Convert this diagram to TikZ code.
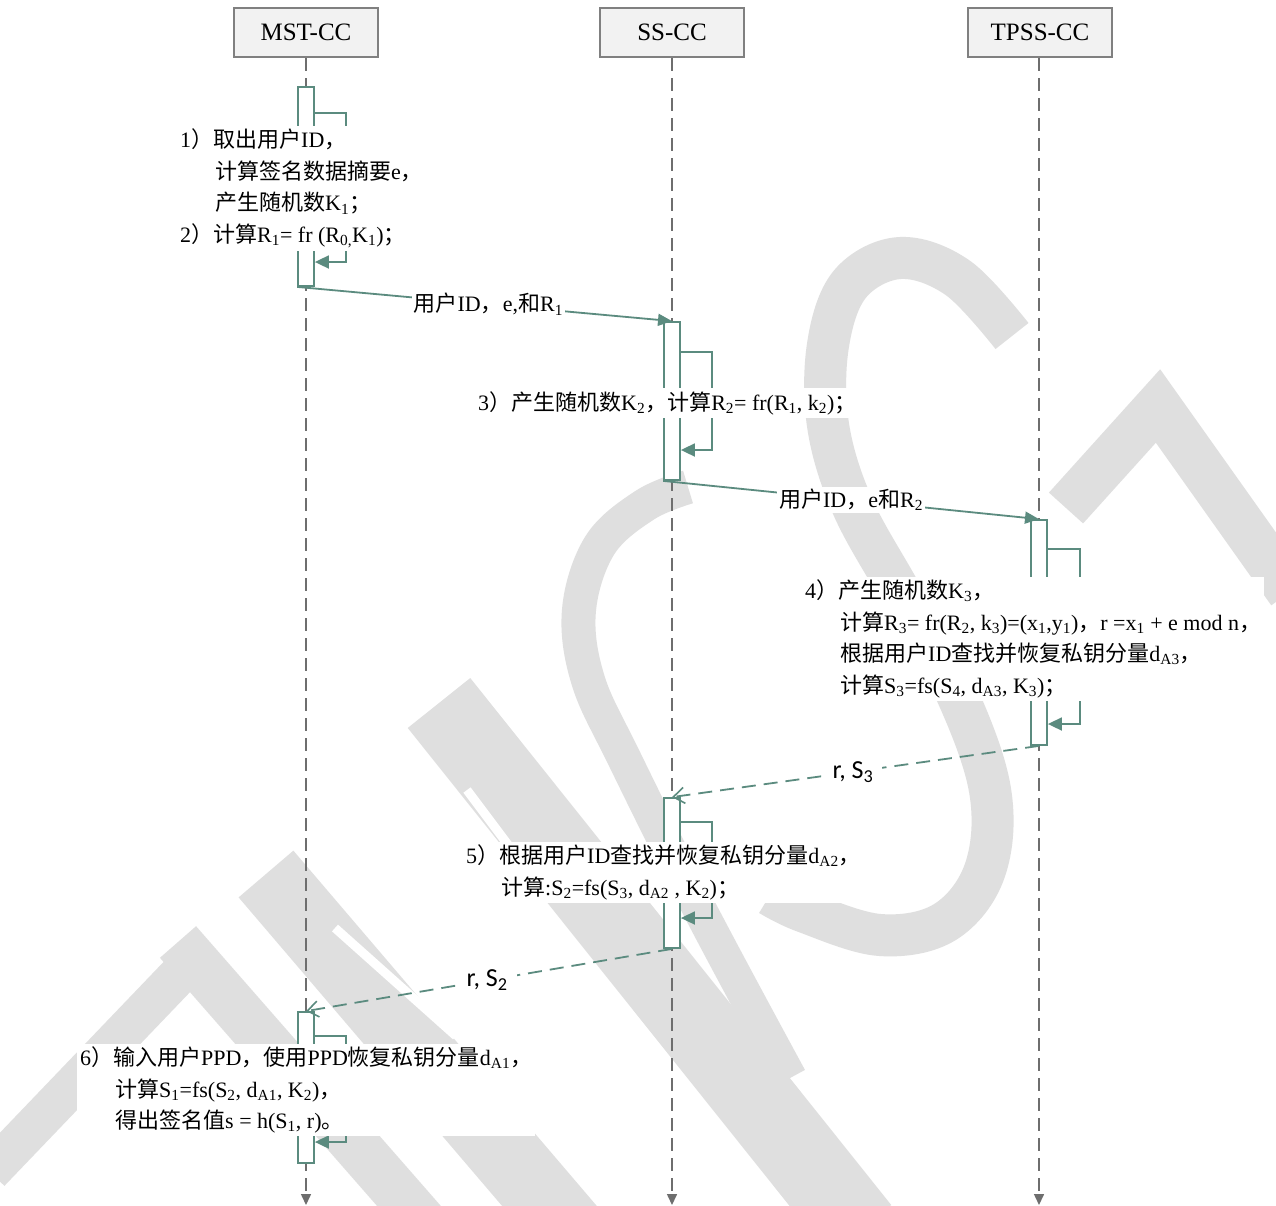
\documentclass[tikz,border=0pt]{standalone}
\usepackage{fontspec}
\setmainfont{Liberation Serif}
\newfontfamily\cjk{Noto Sans CJK SC}
\newfontfamily\lblfont{Carlito}
\usetikzlibrary{arrows.meta}
\definecolor{tealc}{RGB}{91,139,127}
\definecolor{lifegray}{RGB}{110,110,110}
\definecolor{wmgray}{RGB}{223,223,223}
\definecolor{hdrfill}{RGB}{242,242,242}
\definecolor{hdrdraw}{RGB}{128,128,128}
\newcommand\zh[1]{{\cjk #1}}
\newcommand\sbs[1]{\textsubscript{#1}}
\newcommand\ind{\hspace*{35pt}}
\begin{document}
\begin{tikzpicture}[x=1pt,y=-1pt,
  wm/.style={draw=wmgray,line cap=butt,line join=round},
  slit/.style={draw=white,line cap=butt},
  hdr/.style={draw=hdrdraw,fill=hdrfill,line width=2pt,minimum width=144pt,minimum height=49pt,inner sep=0pt,font=\fontsize{25}{30}\selectfont},
  life/.style={draw=lifegray,line width=1.5pt,dash pattern=on 13pt off 7pt,-{Triangle[length=11pt,width=10pt]}},
  act/.style={draw=tealc,fill=white,line width=1.8pt,minimum width=16pt,inner sep=0pt},
  selfc/.style={draw=tealc,line width=1.8pt,-{Triangle[length=14pt,width=13pt]}},
  msg/.style={draw=tealc,line width=1.8pt,-{Triangle[length=14pt,width=12pt]}},
  rmsg/.style={draw=tealc,line width=1.8pt,dash pattern=on 14pt off 8pt,-{Straight Barb[length=11pt,width=16pt,line width=1.6pt]}},
  txt/.style={fill=white,inner sep=3pt,align=left,anchor=west,font=\fontsize{22}{31.6}\selectfont},
  lbl/.style={fill=white,inner sep=2pt,font=\fontsize{22}{26}\selectfont},
  slbl/.style={fill=white,inner xsep=9pt,inner ysep=3pt,font=\lblfont\fontsize{26}{30}\selectfont}]
\useasboundingbox (0,0) rectangle (1276,1205);
\fill[white] (0,0) rectangle (1276,1205);
% ---------- watermark ----------
\begin{scope}
\clip (0,0) rectangle (1276,1205);
\draw[wm,line width=42pt] plot[smooth,tension=0.6] coordinates {(1012,336) (958,278) (900,258) (850,284) (828,345) (828,425) (852,505) (900,592) (955,690) (990,790) (985,870) (945,922) (880,935) (805,912) (770,895)};
\draw[wm,line width=34pt] plot[smooth,tension=0.6] coordinates {(688,487) (645,505) (600,545) (579,610) (588,680) (625,760) (700,910) (790,1078)};
\draw[wm,line width=46pt,line join=miter] (1066,508) -- (1158,406) -- (1290,592);
\draw[wm,line width=80pt] (439,703) -- (860,1230);
\draw[slit,line width=9pt] (467,790) -- (527,870);
\draw[wm,line width=72pt] (266,874) -- (570,1230);
\draw[slit,line width=9pt] (335,928) -- (456,1036);
\draw[wm,line width=40pt] (-10,1172) -- (195,958);
\draw[wm,line width=48pt] (178,942) -- (430,1230);
\end{scope}
% ---------- headers and lifelines ----------
\node[hdr] (h1) at (306,32.5) {MST-CC};
\node[hdr] (h2) at (672,32.5) {SS-CC};
\node[hdr] (h3) at (1040,32.5) {TPSS-CC};
\coordinate (e1) at (306,1205);
\coordinate (e2) at (672,1205);
\coordinate (e3) at (1039,1205);
\draw[life] (h1.south) -- (e1);
\draw[life] (h2.south) -- (e2);
\draw[life] ([xshift=-1pt]h3.south) -- (e3);
% ---------- activations ----------
\node[act,minimum height=199pt] (a1) at (306,186.5) {};
\node[act,minimum height=158pt] (a2) at (672,401) {};
\node[act,minimum height=225pt] (a3) at (1039,632.5) {};
\node[act,minimum height=150pt] (a4) at (672,873) {};
\node[act,minimum height=151pt] (a5) at (306,1087.5) {};
% ---------- self calls ----------
\draw[selfc] (a1.east |- 0,113) -- (346,113) -- (346,262) -- (a1.east |- 0,262);
\draw[selfc] (a2.east |- 0,352) -- (712,352) -- (712,450) -- (a2.east |- 0,450);
\draw[selfc] (a3.east |- 0,549) -- (1080,549) -- (1080,724) -- (a3.east |- 0,724);
\draw[selfc] (a4.east |- 0,822) -- (712,822) -- (712,918) -- (a4.east |- 0,918);
\draw[selfc] (a5.east |- 0,1036) -- (346,1036) -- (346,1142) -- (a5.east |- 0,1142);
% ---------- messages ----------
\draw[msg] (a1.south west) -- (a2.north) node[lbl,pos=0.51] (l1) {\zh{用户}ID\zh{，}e,\zh{和}R\sbs{1}};
\draw[msg] (a2.south west) -- (a3.north) node[lbl,pos=0.5] (l2) {\zh{用户}ID\zh{，}e\zh{和}R\sbs{2}};
\draw[rmsg] (a3.south) -- (a4.north) node[slbl,pos=0.507] (l3) {r, S\sbs{3}};
\draw[rmsg] (a4.south) -- (a5.north) node[slbl,pos=0.505] (l4) {r, S\sbs{2}};
% ---------- step texts ----------
\node[txt] (t1) at (177,188.5) {1\zh{）取出用户}ID\zh{，}\\
\ind\zh{计算签名数据摘要}e\zh{，}\\
\ind\zh{产生随机数}K\sbs{1}\zh{；}\\
2\zh{）计算}R\sbs{1}= fr (R\sbs{0,}K\sbs{1})\zh{；}};
\node[txt] (t3) at (475,403) {3\zh{）产生随机数}K\sbs{2}\zh{，计算}R\sbs{2}= fr(R\sbs{1}, k\sbs{2})\zh{；}};
\node[txt] (t4) at (802,639) {4\zh{）产生随机数}K\sbs{3}\zh{，}\\
\ind\zh{计算}R\sbs{3}= fr(R\sbs{2}, k\sbs{3})=(x\sbs{1},y\sbs{1})\zh{，}r =x\sbs{1} + e mod n\zh{，}\\
\ind\zh{根据用户}ID\zh{查找并恢复私钥分量}d\sbs{A3}\zh{，}\\
\ind\zh{计算}S\sbs{3}=fs(S\sbs{4}, d\sbs{A3}, K\sbs{3})\zh{；}};
\node[txt] (t5) at (463,872.5) {5\zh{）根据用户}ID\zh{查找并恢复私钥分量}d\sbs{A2}\zh{，}\\
\ind\zh{计算}:S\sbs{2}=fs(S\sbs{3}, d\sbs{A2} , K\sbs{2})\zh{；}};
\node[txt] (t6) at (77,1090) {6\zh{）输入用户}PPD\zh{，使用}PPD\zh{恢复私钥分量}d\sbs{A1}\zh{，}\\
\ind\zh{计算}S\sbs{1}=fs(S\sbs{2}, d\sbs{A1}, K\sbs{2})\zh{，}\\
\ind\zh{得出签名值}s = h(S\sbs{1}, r)\zh{。}};
\end{tikzpicture}
\end{document}
